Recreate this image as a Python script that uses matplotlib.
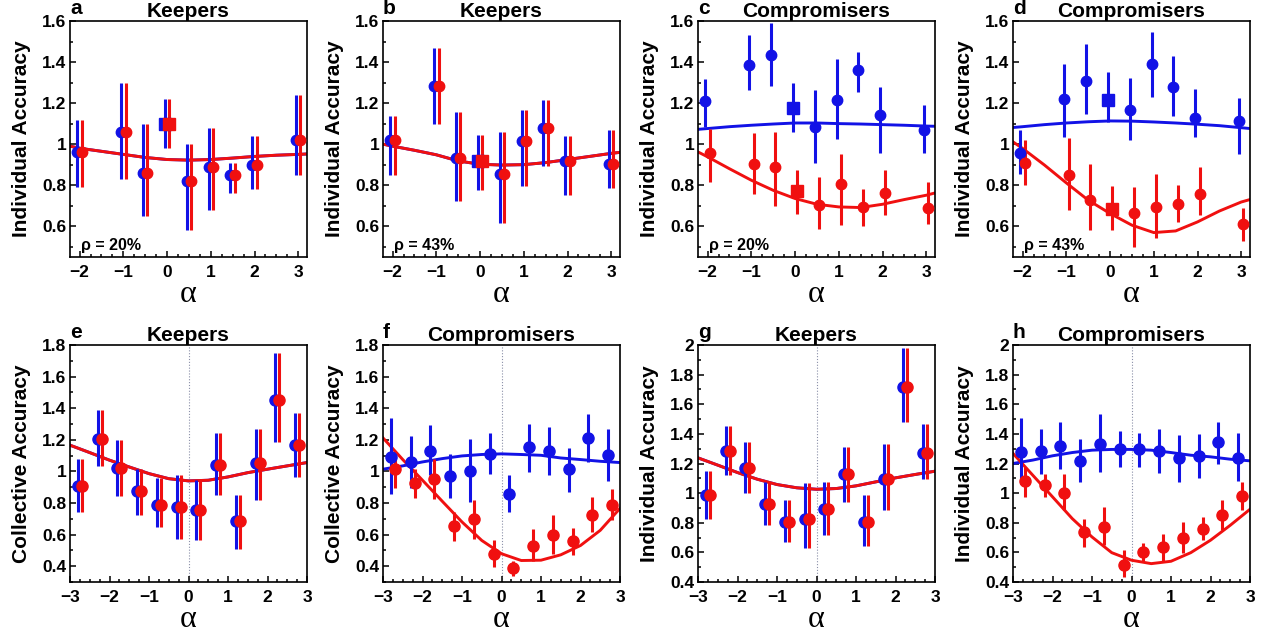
import matplotlib
matplotlib.use("Agg")
import matplotlib.pyplot as plt
from matplotlib.ticker import MultipleLocator, FuncFormatter

plt.rcParams["font.family"] = ["Liberation Sans", "DejaVu Sans"]
plt.rcParams["axes.unicode_minus"] = True

BLUE = "#1212e6"
RED = "#f01010"

# alpha values of the experimental conditions
X_TOP = [-2, -1, -0.5, 0, 0.5, 1, 1.5, 2, 3]
X_BOT = [-2.75, -2.25, -1.75, -1.25, -0.75, -0.25, 0.25, 0.75, 1.25, 1.75, 2.25, 2.75]
# abscissae of the model curves
FIT_X_TOP = [-2.22, -2, -1.5, -1, -0.5, 0, 0.5, 1, 1.5, 2, 2.5, 3, 3.2]
FIT_X_BOT = [-3, -2.5, -2, -1.5, -1, -0.5, 0, 0.5, 1, 1.5, 2, 2.5, 3]

# panel a: keepers, rho = 20%
a_mean = [0.96, 1.06, 0.86, 1.10, 0.82, 0.89, 0.85, 0.90, 1.02]
a_hi = [1.12, 1.30, 1.10, 1.22, 1.00, 1.08, 0.91, 1.04, 1.24]
a_lo = [0.79, 0.83, 0.65, 0.98, 0.58, 0.68, 0.76, 0.78, 0.85]
a_fit = [0.99, 0.98, 0.965, 0.95, 0.935, 0.925, 0.922, 0.925, 0.932, 0.94, 0.946, 0.95, 0.952]

# panel b: keepers, rho = 43%
b_mean = [1.02, 1.285, 0.93, 0.92, 0.855, 1.015, 1.08, 0.92, 0.905]
b_hi = [1.135, 1.47, 1.155, 1.045, 1.06, 1.165, 1.215, 1.04, 1.07]
b_lo = [0.85, 1.10, 0.725, 0.775, 0.615, 0.795, 0.895, 0.75, 0.785]
b_fit = [1.0, 0.99, 0.97, 0.948, 0.918, 0.902, 0.898, 0.9, 0.91, 0.925, 0.94, 0.955, 0.96]

# panel c: compromisers, rho = 20%
c_blue = [1.21, 1.385, 1.435, 1.175, 1.085, 1.215, 1.36, 1.14, 1.07]
c_blue_hi = [1.315, 1.53, 1.59, 1.30, 1.265, 1.415, 1.45, 1.28, 1.19]
c_blue_lo = [1.085, 1.265, 1.285, 1.06, 0.91, 1.025, 1.255, 0.955, 0.955]
c_red = [0.955, 0.905, 0.89, 0.77, 0.705, 0.805, 0.695, 0.76, 0.69]
c_red_hi = [1.075, 1.055, 1.06, 0.875, 0.84, 0.95, 0.78, 0.875, 0.815]
c_red_lo = [0.815, 0.755, 0.70, 0.66, 0.585, 0.605, 0.60, 0.655, 0.61]
c_blue_fit = [1.072, 1.076, 1.085, 1.092, 1.098, 1.103, 1.103, 1.1, 1.098, 1.095, 1.092, 1.088, 1.087]
c_red_fit = [0.962, 0.938, 0.88, 0.824, 0.775, 0.735, 0.707, 0.694, 0.691, 0.707, 0.73, 0.751, 0.762]

# panel d: compromisers, rho = 43%
d_blue = [0.955, 1.22, 1.31, 1.215, 1.165, 1.39, 1.28, 1.128, 1.113]
d_blue_hi = [1.068, 1.392, 1.49, 1.352, 1.322, 1.546, 1.428, 1.27, 1.227]
d_blue_lo = [0.853, 1.035, 1.149, 1.108, 1.022, 1.23, 1.136, 1.035, 0.954]
d_red = [0.91, 0.848, 0.727, 0.686, 0.665, 0.694, 0.71, 0.756, 0.613]
d_red_hi = [1.019, 1.032, 0.905, 0.795, 0.792, 0.856, 0.8, 0.889, 0.691]
d_red_lo = [0.8, 0.678, 0.58, 0.58, 0.5, 0.545, 0.621, 0.654, 0.529]
d_blue_fit = [1.081, 1.085, 1.095, 1.103, 1.109, 1.113, 1.112, 1.108, 1.103, 1.097, 1.09, 1.08, 1.076]
d_red_fit = [1.011, 0.979, 0.898, 0.811, 0.727, 0.662, 0.605, 0.569, 0.577, 0.621, 0.674, 0.718, 0.73]

# panel e: keepers, collective accuracy
e_mean = [0.906, 1.204, 1.022, 0.874, 0.789, 0.775, 0.753, 1.043, 0.684, 1.054, 1.451, 1.166]
e_hi = [1.081, 1.388, 1.197, 1.014, 0.959, 0.975, 0.944, 1.24, 0.849, 1.271, 1.747, 1.367]
e_lo = [0.743, 1.035, 0.844, 0.726, 0.648, 0.574, 0.563, 0.853, 0.51, 0.817, 1.183, 0.965]
e_fit = [1.166, 1.119, 1.071, 1.028, 0.986, 0.954, 0.94, 0.944, 0.965, 0.992, 1.014, 1.035, 1.056]

# panel f: compromisers, collective accuracy
f_blue = [1.092, 1.06, 1.128, 0.971, 1.005, 1.113, 0.859, 1.155, 1.128, 1.014, 1.212, 1.102]
f_blue_hi = [1.339, 1.225, 1.293, 1.112, 1.208, 1.24, 0.976, 1.303, 1.282, 1.145, 1.362, 1.271]
f_blue_lo = [0.859, 0.895, 0.976, 0.832, 0.806, 0.986, 0.743, 0.997, 0.98, 0.87, 1.06, 0.937]
f_red = [1.018, 0.927, 0.95, 0.654, 0.696, 0.479, 0.39, 0.531, 0.599, 0.557, 0.726, 0.789]
f_red_hi = [1.123, 1.018, 1.081, 0.743, 0.817, 0.563, 0.436, 0.637, 0.722, 0.641, 0.838, 0.89]
f_red_lo = [0.895, 0.832, 0.827, 0.557, 0.57, 0.394, 0.341, 0.436, 0.479, 0.472, 0.616, 0.69]
f_blue_fit = [1.014, 1.035, 1.06, 1.081, 1.098, 1.107, 1.111, 1.107, 1.102, 1.085, 1.075, 1.064, 1.056]
f_red_fit = [1.212, 1.075, 0.944, 0.811, 0.68, 0.563, 0.479, 0.436, 0.438, 0.472, 0.531, 0.627, 0.766]

# panel g: keepers, individual accuracy
g_mean = [0.986, 1.283, 1.171, 0.925, 0.806, 0.828, 0.896, 1.126, 0.806, 1.094, 1.718, 1.274]
g_hi = [1.148, 1.452, 1.346, 1.076, 0.952, 1.065, 1.076, 1.313, 0.986, 1.335, 1.977, 1.466]
g_lo = [0.828, 1.121, 1.004, 0.783, 0.67, 0.63, 0.715, 0.941, 0.643, 0.885, 1.482, 1.092]
g_fit = [1.238, 1.189, 1.139, 1.094, 1.058, 1.036, 1.026, 1.031, 1.049, 1.076, 1.103, 1.126, 1.148]

# panel h: compromisers, individual accuracy
h_blue = [1.279, 1.283, 1.317, 1.216, 1.335, 1.301, 1.295, 1.283, 1.234, 1.25, 1.342, 1.234]
h_blue_hi = [1.504, 1.432, 1.482, 1.365, 1.534, 1.421, 1.403, 1.43, 1.392, 1.396, 1.482, 1.403]
h_blue_lo = [1.06, 1.126, 1.162, 1.076, 1.144, 1.177, 1.177, 1.139, 1.076, 1.103, 1.2, 1.081]
h_red = [1.083, 1.054, 1.004, 0.738, 0.772, 0.517, 0.603, 0.637, 0.697, 0.761, 0.851, 0.979]
h_red_hi = [1.177, 1.132, 1.126, 0.828, 0.907, 0.614, 0.664, 0.727, 0.806, 0.839, 0.952, 1.076]
h_red_lo = [0.975, 0.975, 0.885, 0.637, 0.648, 0.434, 0.54, 0.535, 0.598, 0.682, 0.749, 0.885]
h_blue_fit = [1.2, 1.223, 1.252, 1.274, 1.29, 1.295, 1.295, 1.29, 1.274, 1.256, 1.245, 1.229, 1.218]
h_red_fit = [1.268, 1.121, 0.975, 0.828, 0.704, 0.598, 0.547, 0.524, 0.54, 0.598, 0.682, 0.783, 0.891]

TITLES = ["Keepers", "Keepers", "Compromisers", "Compromisers",
          "Keepers", "Compromisers", "Keepers", "Compromisers"]
LETTERS = list("abcdefgh")
YLABELS = ["Individual Accuracy"] * 4 + ["Collective Accuracy"] * 2 + ["Individual Accuracy"] * 2
RHO = ["ρ = 20%", "ρ = 43%", "ρ = 20%", "ρ = 43%"]

SHIFT = 0.05  # horizontal separation between the blue and red series

W, H = 1266, 638
fig = plt.figure(figsize=(W / 100, H / 100), dpi=100)
fig.patch.set_facecolor("white")

LEFTS = [70, 383, 698, 1013]
AX_W = 237


def make_axes(col, top, bottom):
    return fig.add_axes([LEFTS[col] / W, 1 - bottom / H, AX_W / W, (bottom - top) / H])


def style(ax, idx, xlim, ylim, xmajor):
    ax.set_xlim(*xlim)
    ax.set_ylim(*ylim)
    ax.xaxis.set_major_locator(MultipleLocator(xmajor))
    ax.xaxis.set_minor_locator(MultipleLocator(0.25))
    ax.yaxis.set_major_locator(MultipleLocator(0.2))
    ax.yaxis.set_minor_locator(MultipleLocator(0.1))
    fmt = FuncFormatter(lambda v, p: f"{round(v, 3):g}".replace("-", "\u2212"))
    ax.xaxis.set_major_formatter(fmt)
    ax.yaxis.set_major_formatter(fmt)
    ax.tick_params(which="both", direction="in", top=False, right=False, width=1.1)
    ax.tick_params(which="major", length=4.5)
    ax.tick_params(which="minor", length=2.5)
    ax.tick_params(axis="x", which="major", pad=6, labelsize=12.5)
    ax.tick_params(axis="y", which="major", pad=2.5, labelsize=12.5)
    for lab in ax.get_xticklabels() + ax.get_yticklabels():
        lab.set_fontweight("bold")
    for sp in ax.spines.values():
        sp.set_linewidth(1.2)
    ax.set_xlabel("α", family=["Liberation Serif", "DejaVu Serif"], fontsize=23, labelpad=0)
    ax.set_ylabel(YLABELS[idx], fontsize=15, fontweight="bold", labelpad=8)
    ax.set_title(TITLES[idx], fontsize=15, fontweight="bold", pad=3)
    ax.text(0.0, 1.012, LETTERS[idx], transform=ax.transAxes, fontsize=15,
            fontweight="bold", ha="left", va="bottom")


def draw_series(ax, xs, mean, lo, hi, color, dx, ms, square_at=None):
    xs_s = [x + dx for x in xs]
    ax.vlines(xs_s, lo, hi, color=color, lw=2.2, zorder=3)
    for x, y, x0 in zip(xs_s, mean, xs):
        marker = "s" if (square_at is not None and x0 == square_at) else "o"
        size = ms + 0.5 if marker == "s" else ms
        ax.plot([x], [y], marker=marker, ms=size, color=color, mec=color, zorder=4, ls="none")


def draw_fit(ax, fx, fy, color):
    ax.plot(fx, fy, color=color, lw=2.1, zorder=2, solid_joinstyle="round")


TOP_Y0, TOP_Y1 = 21, 257
BOT_Y0, BOT_Y1 = 345, 582

# top row: individual accuracy vs alpha
top_panels = [
    (a_mean, a_lo, a_hi, a_mean, a_lo, a_hi, a_fit, a_fit),
    (b_mean, b_lo, b_hi, b_mean, b_lo, b_hi, b_fit, b_fit),
    (c_blue, c_blue_lo, c_blue_hi, c_red, c_red_lo, c_red_hi, c_blue_fit, c_red_fit),
    (d_blue, d_blue_lo, d_blue_hi, d_red, d_red_lo, d_red_hi, d_blue_fit, d_red_fit),
]
for col, (bm, bl, bh, rm, rl, rh, bf, rf) in enumerate(top_panels):
    ax = make_axes(col, TOP_Y0, TOP_Y1)
    style(ax, col, (-2.22, 3.2), (0.45, 1.6), 1)
    draw_fit(ax, FIT_X_TOP, bf, BLUE)
    draw_fit(ax, FIT_X_TOP, rf, RED)
    draw_series(ax, X_TOP, bm, bl, bh, BLUE, -SHIFT, 7.5, square_at=0)
    draw_series(ax, X_TOP, rm, rl, rh, RED, SHIFT, 7.5, square_at=0)
    ax.text(0.045, 0.015, RHO[col], transform=ax.transAxes, fontsize=11.5,
            fontweight="bold", ha="left", va="bottom")

# bottom row: collective and individual accuracy with finer alpha bins
bot_panels = [
    (e_mean, e_lo, e_hi, e_mean, e_lo, e_hi, e_fit, e_fit, (0.3, 1.8)),
    (f_blue, f_blue_lo, f_blue_hi, f_red, f_red_lo, f_red_hi, f_blue_fit, f_red_fit, (0.3, 1.8)),
    (g_mean, g_lo, g_hi, g_mean, g_lo, g_hi, g_fit, g_fit, (0.4, 2.0)),
    (h_blue, h_blue_lo, h_blue_hi, h_red, h_red_lo, h_red_hi, h_blue_fit, h_red_fit, (0.4, 2.0)),
]
for col, (bm, bl, bh, rm, rl, rh, bf, rf, ylim) in enumerate(bot_panels):
    ax = make_axes(col, BOT_Y0, BOT_Y1)
    style(ax, col + 4, (-3, 3), ylim, 1)
    ax.axvline(0, color="#8a8fa8", lw=0.8, ls=(0, (1, 1.6)), zorder=1)
    draw_fit(ax, FIT_X_BOT, bf, BLUE)
    draw_fit(ax, FIT_X_BOT, rf, RED)
    draw_series(ax, X_BOT, bm, bl, bh, BLUE, -SHIFT, 8)
    draw_series(ax, X_BOT, rm, rl, rh, RED, SHIFT, 8)

fig.savefig("out.png", dpi=100, facecolor="white")
